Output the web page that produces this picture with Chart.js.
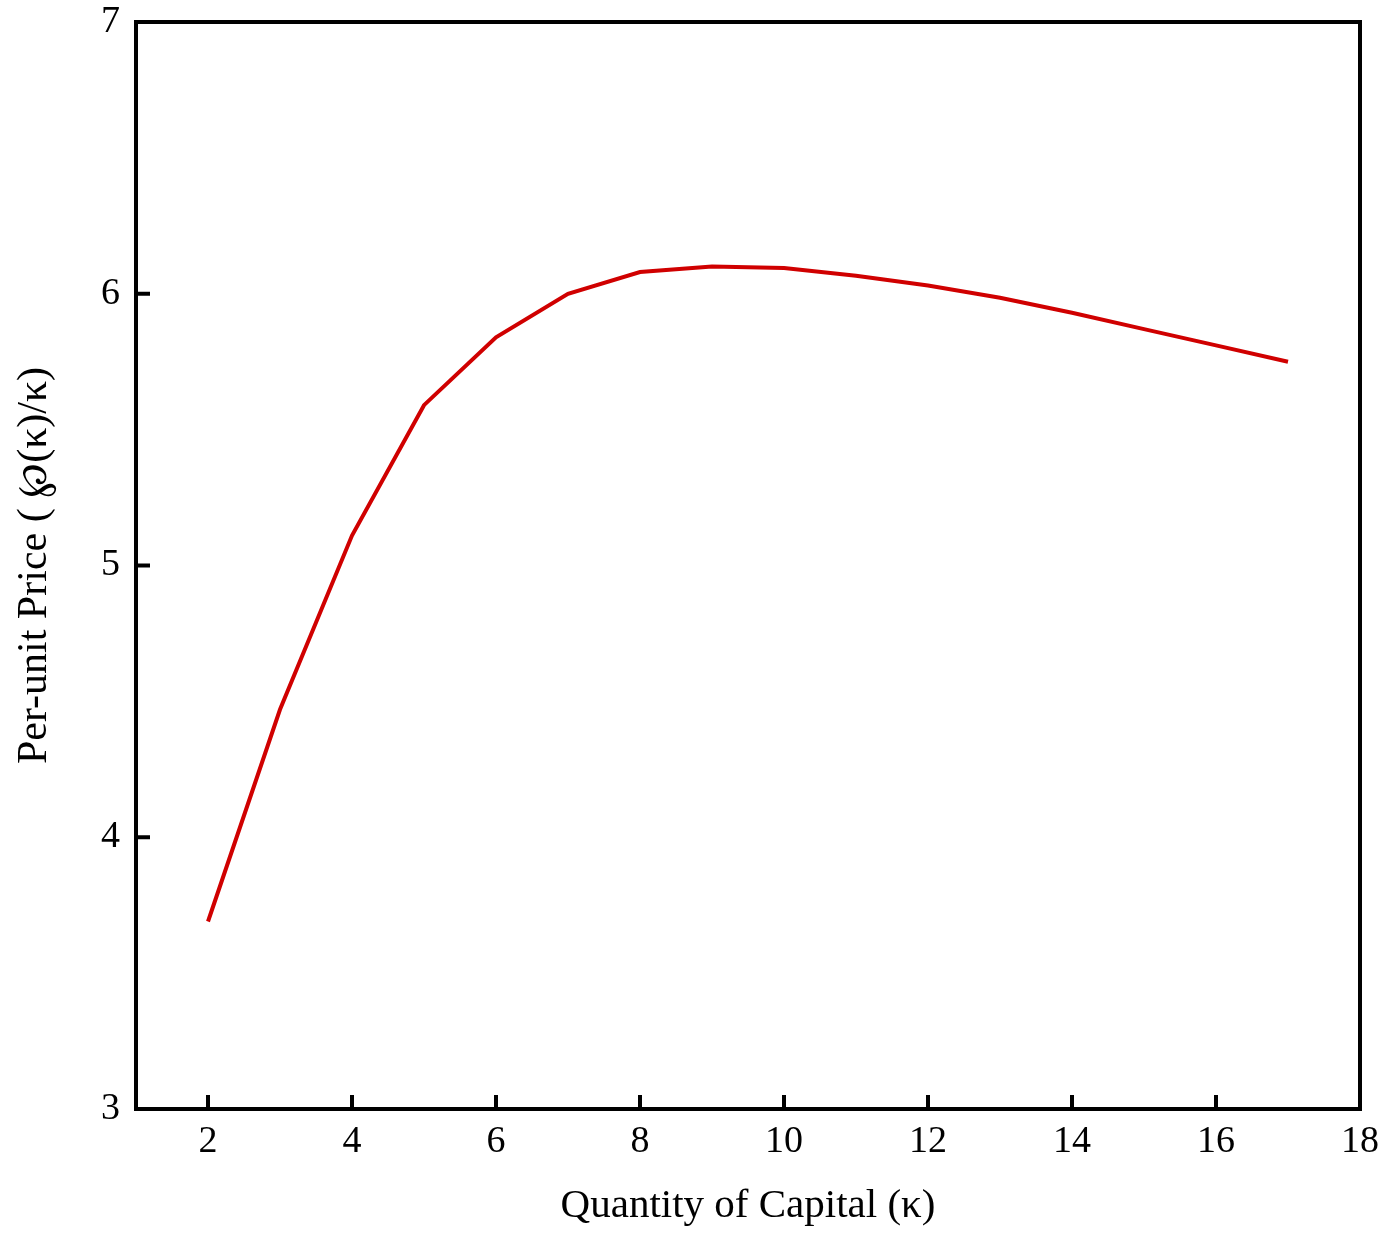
<!DOCTYPE html>
<html>
<head>
<meta charset="utf-8">
<script src="https://cdn.jsdelivr.net/npm/chart.js@4/dist/chart.umd.min.js"></script>
<style>
  html, body { margin: 0; padding: 0; background: #fff; }
  #wrap { width: 1387px; height: 1235px; }
</style>
</head>
<body>
<div id="wrap"><canvas id="priceChart"></canvas></div>
<script>
// Quantity of capital (x) and per-unit price (y)
const kappa = [2, 3, 4, 5, 6, 7, 8, 9, 10, 11, 12, 13, 14, 15, 16, 17];
const perUnitPrice = [3.69, 4.47, 5.11, 5.59, 5.84, 6.00, 6.08, 6.10, 6.095, 6.066, 6.03, 5.985, 5.93, 5.87, 5.81, 5.75];
const xTicks = [2, 4, 6, 8, 10, 12, 14, 16, 18];
const yTicks = [3, 4, 5, 6, 7];

const FONT = '"Liberation Serif", "Times New Roman", serif';

// draws the top/right frame lines and inward tick marks
const frameTicks = {
    id: 'frameTicks',
    afterDraw(chart) {
        const { ctx, chartArea: a, scales } = chart;
        ctx.save();
        ctx.strokeStyle = '#000';
        ctx.lineWidth = 4;
        ctx.lineCap = 'square';
        ctx.beginPath();
        ctx.moveTo(a.left, a.top);
        ctx.lineTo(a.right, a.top);
        ctx.lineTo(a.right, a.bottom);
        ctx.stroke();
        ctx.lineCap = 'butt';
        ctx.beginPath();
        xTicks.forEach(v => {
            const px = scales.x.getPixelForValue(v);
            ctx.moveTo(px, a.bottom);
            ctx.lineTo(px, a.bottom - 14);
        });
        yTicks.forEach(v => {
            const py = scales.y.getPixelForValue(v);
            ctx.moveTo(a.left, py);
            ctx.lineTo(a.left + 14, py);
        });
        ctx.stroke();
        ctx.restore();
    }
};

const ctx = document.getElementById('priceChart').getContext('2d');
new Chart(ctx, {
    type: 'line',
    data: {
        datasets: [{
            data: kappa.map((k, i) => ({ x: k, y: perUnitPrice[i] })),
            borderColor: '#d00000',
            borderWidth: 4,
            pointRadius: 0,
            tension: 0,
            fill: false
        }]
    },
    options: {
        responsive: true,
        maintainAspectRatio: false,
        animation: false,
        layout: { padding: { top: 22, right: 27, left: 0, bottom: 0 } },
        plugins: {
            legend: { display: false },
            tooltip: { enabled: false }
        },
        scales: {
            x: {
                type: 'linear',
                min: 1,
                max: 18,
                afterBuildTicks: s => { s.ticks = xTicks.map(v => ({ value: v })); },
                afterFit: s => { s.height = 126; s.paddingLeft = 0; s.paddingRight = 0; },
                grid: { display: false, drawTicks: false },
                border: { display: true, color: '#000', width: 4 },
                ticks: { color: '#000', padding: 10, font: { family: FONT, size: 38 } },
                title: {
                    display: true,
                    text: 'Quantity of Capital (κ)',
                    color: '#000',
                    font: { family: FONT, size: 41 },
                    padding: { top: 12 }
                }
            },
            y: {
                min: 3,
                max: 7,
                afterBuildTicks: s => { s.ticks = yTicks.map(v => ({ value: v })); },
                afterFit: s => { s.width = 136; s.paddingTop = 0; s.paddingBottom = 0; },
                grid: { display: false, drawTicks: false },
                border: { display: true, color: '#000', width: 4 },
                ticks: { color: '#000', padding: 16, font: { family: FONT, size: 38 } },
                title: {
                    display: true,
                    text: 'Per-unit Price ( ℘(κ)/κ)',
                    color: '#000',
                    font: { family: FONT, size: 42 },
                    padding: { top: 10, bottom: 30 }
                }
            }
        }
    },
    plugins: [frameTicks]
});
</script>
</body>
</html>
